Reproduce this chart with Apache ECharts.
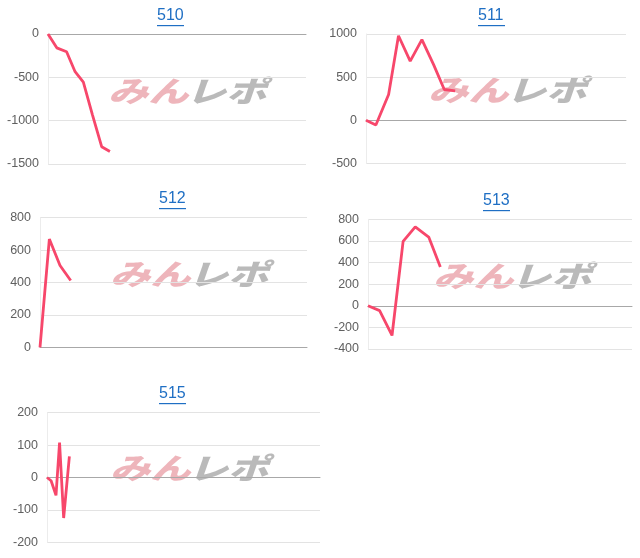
<!DOCTYPE html>
<html><head><meta charset="utf-8">
<script src="https://cdn.jsdelivr.net/npm/echarts@6/dist/echarts.min.js"></script>
<style>html,body{margin:0;padding:0;background:#fff}#c{width:640px;height:558px}</style>
</head><body><div id="c"></div>
<script>
// Panel titles (machine numbers)
const titles = ['510', '511', '512', '513', '515'];
// X positions of samples (share of the day's span, 0-100)
const x510 = [0, 3.4, 7.2, 10.5, 13.7, 17.2, 20.8, 24.0];
const y510 = [0, -160, -205, -435, -555, -930, -1300, -1355];
const x511 = [0, 3.8, 8.7, 12.5, 17.0, 21.5, 26.0, 30.1, 34.3];
const y511 = [0, -55, 300, 980, 685, 935, 645, 357, 340];
const x512 = [0, 3.5, 7.5, 11.5];
const y512 = [0, 668, 505, 412];
const x513 = [0, 4.4, 9.1, 13.3, 17.9, 23.0, 27.4];
const y513 = [0, -45, -275, 595, 730, 636, 358];
const x515 = [0, 1.5, 3.3, 4.6, 6.1, 8.2];
const y515 = [0, -10, -55, 108, -125, 65];
// Y axis ranges: [min, max, interval]
const yRanges = [[-1500, 0, 500], [-500, 1000, 500], [0, 800, 200], [-400, 800, 200], [-200, 200, 100]];

const xs = [x510, x511, x512, x513, x515];
const ys = [y510, y511, y512, y513, y515];

// layout (pixels)
const grids = [
  {left: 48, top: 34, width: 258, height: 130},
  {left: 366, top: 34, width: 260, height: 129.5},
  {left: 40, top: 217.7, width: 267, height: 129.6},
  {left: 368, top: 219.3, width: 264, height: 129.7},
  {left: 47, top: 412.7, width: 273, height: 129.6}
];
const titlePos = [[170, 17], [491, 17], [172, 200], [496, 202], [172, 395]];
const markPos = [[108, 78], [428, 77], [110, 261], [433, 263], [110, 455]];

const lineColor = '#f7476b';
const option = {
  animation: false,
  backgroundColor: '#fff',
  grid: [], xAxis: [], yAxis: [], series: [],
  graphic: []
};
for (let i = 0; i < 5; i++) {
  const g = grids[i];
  option.grid.push({left: g.left, top: g.top, width: g.width, height: g.height, containLabel: false});
  option.xAxis.push({
    type: 'value', gridIndex: i, min: 0, max: 100,
    axisLine: {show: true, onZero: true, lineStyle: {color: '#a8a8a8', width: 1}},
    axisTick: {show: false}, axisLabel: {show: false}, splitLine: {show: false}
  });
  const r = yRanges[i];
  option.yAxis.push({
    type: 'value', gridIndex: i, min: r[0], max: r[1], interval: r[2],
    axisLine: {show: true, lineStyle: {color: '#ececec'}},
    axisTick: {show: false},
    axisLabel: {color: '#606060', fontSize: 12.5, fontFamily: 'Liberation Sans, Arial, sans-serif', margin: 9,
      formatter: v => String(v)},
    splitLine: {show: true, lineStyle: {color: '#e3e3e3', width: 1}}
  });
  option.series.push({
    type: 'line', xAxisIndex: i, yAxisIndex: i, showSymbol: false, symbol: 'none',
    lineStyle: {color: lineColor, width: 2.8}, z: 5,
    data: xs[i].map((v, k) => [v, ys[i][k]])
  });
  const tp = titlePos[i];
  option.graphic.push({
    type: 'text', left: tp[0] - 13, top: tp[1] - 9,
    style: {text: titles[i], fill: '#1f6fc4', font: '16px "Liberation Sans", Arial, sans-serif'}
  });
  option.graphic.push({
    type: 'rect', shape: {x: tp[0] - 13, y: tp[1] + 8, width: 27, height: 1.2},
    style: {fill: '#1f6fc4'}
  });
  const mp = markPos[i];
  option.graphic.push({
    type: 'group', x: mp[0], y: mp[1], z: 1, scaleX: 1.22, scaleY: 0.88,
    children: [
      {type: 'text', x: 0, y: -2, style: {text: 'みん', fill: 'rgba(224,120,132,0.55)', font: 'italic 900 33px "Noto Sans CJK JP", sans-serif'}},
      {type: 'text', x: 64, y: -2, style: {text: 'レポ', fill: 'rgba(140,140,140,0.6)', font: 'italic 900 33px "Noto Sans CJK JP", sans-serif'}}
    ]
  });
}
const chart = echarts.init(document.getElementById('c'), null, {renderer: 'canvas'});
chart.setOption(option);
</script></body></html>
